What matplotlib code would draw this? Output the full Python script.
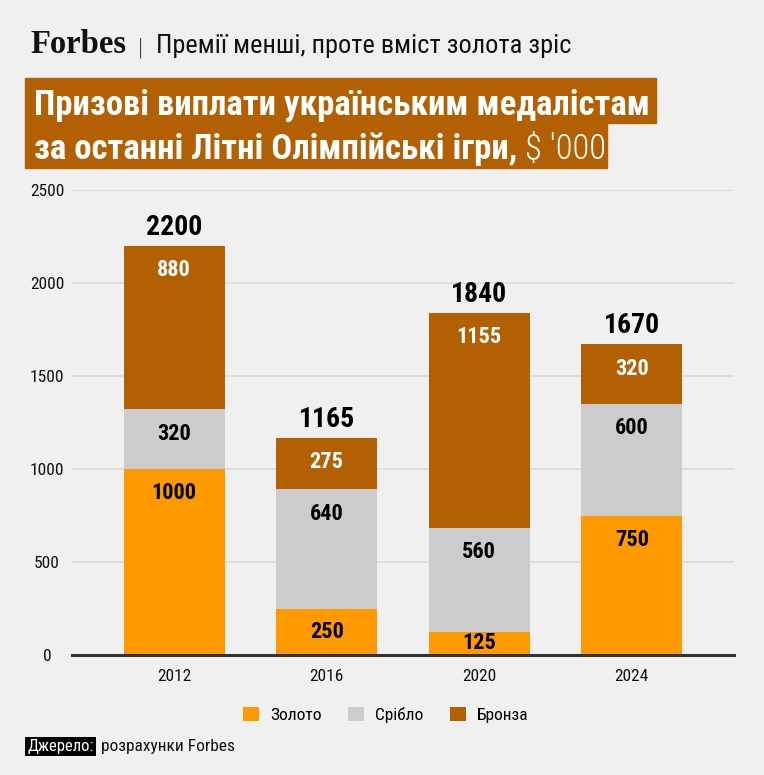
import matplotlib
matplotlib.use("Agg")
import matplotlib.pyplot as plt
from matplotlib.patches import Rectangle

# дані (тис. доларів)
years = ["2012", "2016", "2020", "2024"]
gold = [1000, 250, 125, 750]
silver = [320, 640, 560, 600]
bronze = [880, 275, 1155, 320]
series_names = ["Золото", "Срібло", "Бронза"]
y_ticks = [0, 500, 1000, 1500, 2000, 2500]

header = "Премії менші, проте вміст золота зріс"
title_1 = "Призові виплати українським медалістам"
title_2 = "за останні Літні Олімпійські ігри,"
title_unit = " $ '000"
source_label = "Джерело:"
source_text = "розрахунки Forbes"

BG = "#F0F0F0"
C_GOLD = "#FF9900"
C_SILVER = "#CCCCCC"
C_BRONZE = "#B35F03"
FONT = ["Roboto Condensed", "Fira Sans Condensed", "DejaVu Sans"]

plt.rcParams["font.family"] = FONT

W, H = 764, 775
fig = plt.figure(figsize=(W / 100, H / 100), dpi=100, facecolor=BG)
renderer = fig.canvas.get_renderer()


def fx(px):
    return px / W


def fy(py):
    return 1 - py / H


def text_right(t):
    bb = t.get_window_extent(renderer=renderer)
    return bb.x1 / W


# шапка
fig.text(fx(30), fy(53), "Forbes", fontsize=23.5, fontweight="bold",
         family=["Liberation Serif", "DejaVu Serif"], color="#111111",
         va="baseline", ha="left")
fig.text(fx(141), fy(54), "|", fontsize=17, color="#444444", va="baseline", ha="center",
         fontweight="light")
fig.text(fx(156), fy(53), header, fontsize=19, color="#111111", va="baseline", ha="left")

# заголовок у коричневих плашках
fig.patches.append(Rectangle((fx(25), fy(123)), fx(656) - fx(25), fy(78) - fy(123),
                             transform=fig.transFigure, color=C_BRONZE, zorder=0))
fig.patches.append(Rectangle((fx(25), fy(168)), fx(607) - fx(25), fy(123) - fy(168),
                             transform=fig.transFigure, color=C_BRONZE, zorder=0))
fig.text(fx(34), fy(115), title_1, fontsize=25, fontweight="bold", color="white",
         va="baseline", ha="left")
t2 = fig.text(fx(34), fy(159), title_2, fontsize=25, fontweight="bold", color="white",
              va="baseline", ha="left")
fig.text(text_right(t2), fy(159), title_unit, fontsize=25, fontweight="light", color="white",
         va="baseline", ha="left")

# графік
ax = fig.add_axes([fx(72), fy(655), fx(734) - fx(72), fy(190) - fy(655)])
ax.set_facecolor(BG)
x = list(range(len(years)))
width = 0.66
bottom_silver = [g for g in gold]
bottom_bronze = [g + s for g, s in zip(gold, silver)]
totals = [g + s + b for g, s, b in zip(gold, silver, bronze)]

ax.bar(x, gold, width, color=C_GOLD, label=series_names[0], zorder=3)
ax.bar(x, silver, width, bottom=bottom_silver, color=C_SILVER, label=series_names[1], zorder=3)
ax.bar(x, bronze, width, bottom=bottom_bronze, color=C_BRONZE, label=series_names[2], zorder=3)

# підписи сегментів: ближче до верху сегмента
top_gap = 130
for vals, bots, col in ((gold, [0] * 4, "black"), (silver, bottom_silver, "black"),
                        (bronze, bottom_bronze, "white")):
    for xi, v, b in zip(x, vals, bots):
        ypos = max(b + v - top_gap, b + v / 2)
        ax.text(xi, ypos, f"{v}", ha="center", va="center", fontsize=16,
                fontweight="bold", color=col, zorder=4)

for xi, tot in zip(x, totals):
    ax.annotate(f"{tot}", (xi, tot), xytext=(0, 13.5), textcoords="offset points",
                ha="center", va="center", fontsize=20, fontweight="bold", color="black")

ax.set_xlim(-0.67, 3.67)
ax.set_ylim(0, 2500)
ax.set_yticks(y_ticks)
ax.set_xticks(x)
ax.set_xticklabels(years)
ax.tick_params(axis="both", length=0, labelsize=12.5, colors="#111111")
ax.tick_params(axis="y", pad=18)
for lab in ax.get_yticklabels():
    lab.set_horizontalalignment("center")
ax.tick_params(axis="x", pad=10)
ax.grid(axis="y", color="#DCDCDC", linewidth=1.3, zorder=0)
ax.set_axisbelow(True)
for s in ("top", "right", "left"):
    ax.spines[s].set_visible(False)
ax.spines["bottom"].set_color("#333333")
ax.spines["bottom"].set_linewidth(2.2)
ax.spines["bottom"].set_zorder(5)

# легенда
handles, labels = ax.get_legend_handles_labels()
fig.legend(handles, labels, loc="center", bbox_to_anchor=(fx(386), fy(715)), ncol=3,
           frameon=False, fontsize=12.5, handlelength=0.92, handleheight=0.92,
           handletextpad=0.65, columnspacing=1.5)

# джерело
fig.text(fx(27), fy(751), source_label, fontsize=12, color="white", va="baseline",
         ha="left",
         bbox=dict(boxstyle="square,pad=0.13", facecolor="black", edgecolor="none"))
fig.text(fx(101), fy(751), source_text, fontsize=12.5, color="#111111", va="baseline", ha="left")

fig.savefig("out.png", dpi=100, facecolor=BG)
